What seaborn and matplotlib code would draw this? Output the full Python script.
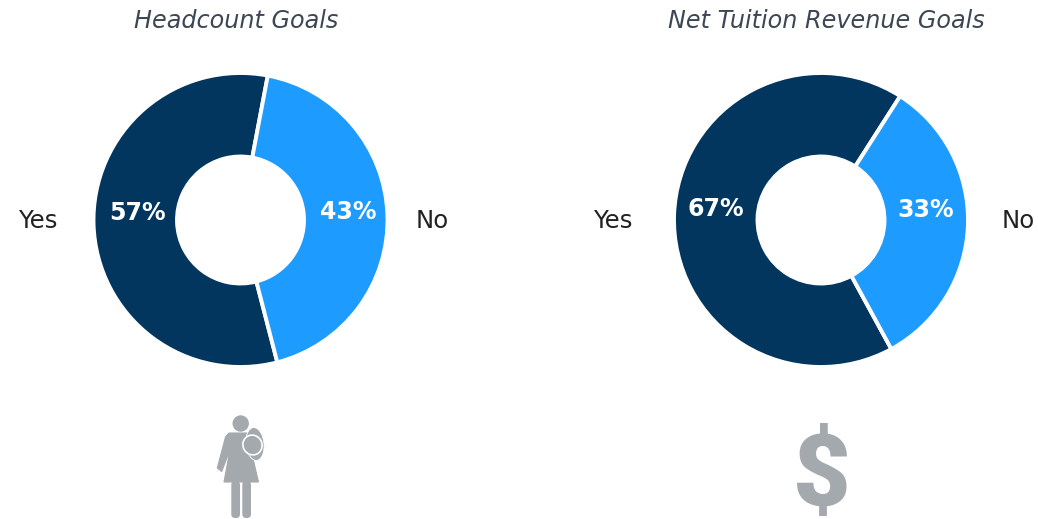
import matplotlib
matplotlib.use("Agg")
import matplotlib.pyplot as plt
from matplotlib.patches import Circle, Ellipse, FancyBboxPatch, Polygon
import seaborn as sns

W, H = 1038, 519

CATEGORIES = ["Yes", "No"]
HEADCOUNT = [57, 43]
TUITION = [67, 33]
TITLES = ["Headcount Goals", "Net Tuition Revenue Goals"]

DARK = "#02365F"
BLUE = "#1E9BFF"
GREY = "#A4A9AE"
TITLE_COLOR = "#3C4655"
TEXT_COLOR = "#222222"


def draw_donut(fig, values, cx, start):
    """One donut, cx is the centre in pixels."""
    radius = 147
    ax = fig.add_axes([(cx - radius) / W, (H - 220 - radius) / H, 2 * radius / W, 2 * radius / H])
    ax.pie(
        values,
        colors=sns.color_palette([DARK, BLUE]),
        startangle=start,
        counterclock=False,
        radius=1,
        wedgeprops={"width": 83.5 / radius, "edgecolor": "white", "linewidth": 2.8},
    )
    ax.set_xlim(-1, 1)
    ax.set_ylim(-1, 1)
    ax.set_axis_off()


def draw_person(ax):
    ax.add_patch(Circle((240.7, 423.5), 8.2, fc=GREY, ec="none"))
    ax.add_patch(Polygon(
        [(229, 433), (250, 433), (251, 450), (258.5, 482), (224, 482), (230, 450),
         (221.7, 471.5), (217.3, 468), (225.5, 437)],
        closed=True, fc=GREY, ec=GREY, lw=0.8, joinstyle="round",
    ))
    ax.add_patch(FancyBboxPatch((231.3, 481), 8.7, 37, boxstyle="round,pad=0,rounding_size=4", fc=GREY, ec="none"))
    ax.add_patch(FancyBboxPatch((242.3, 481), 8.7, 37, boxstyle="round,pad=0,rounding_size=4", fc=GREY, ec="none"))
    ax.add_patch(Ellipse((255, 444), 18, 33, angle=-6, fc=GREY, ec="white", lw=0.6))
    ax.add_patch(Ellipse((252.5, 445), 19, 20, angle=-30, fc=GREY, ec="white", lw=1.2))


sns.set_theme(style="white")
plt.rcParams["font.family"] = "DejaVu Sans"

fig = plt.figure(figsize=(W / 100, H / 100), dpi=100, facecolor="white")

draw_donut(fig, HEADCOUNT, 240.5, -75.5)
draw_donut(fig, TUITION, 821, -61.4)

overlay = fig.add_axes([0, 0, 1, 1])
overlay.set_xlim(0, W)
overlay.set_ylim(H, 0)
overlay.set_axis_off()
overlay.patch.set_alpha(0)

for title, x in zip(TITLES, [236, 826]):
    overlay.text(x, 21.5, title, ha="center", va="center", fontsize=17.2, style="italic", color=TITLE_COLOR)

for x, y, label in [(38, 221, CATEGORIES[0]), (432, 221, CATEGORIES[1]), (613, 221, CATEGORIES[0]), (1018, 221, CATEGORIES[1])]:
    overlay.text(x, y, label, ha="center", va="center", fontsize=17.6, color=TEXT_COLOR)

for x, y, value in [(137.5, 213, HEADCOUNT[0]), (348, 212, HEADCOUNT[1]), (715.5, 209, TUITION[0]), (926, 210, TUITION[1])]:
    overlay.text(x, y, f"{value}%", ha="center", va="center", fontsize=17, fontweight="bold", color="white")

draw_person(overlay)
overlay.text(821.5, 477, "$", ha="center", va="center", fontsize=72, fontweight=900,
             family="Roboto", color=GREY, parse_math=False)

fig.savefig("out.png", dpi=100)
plt.close(fig)
